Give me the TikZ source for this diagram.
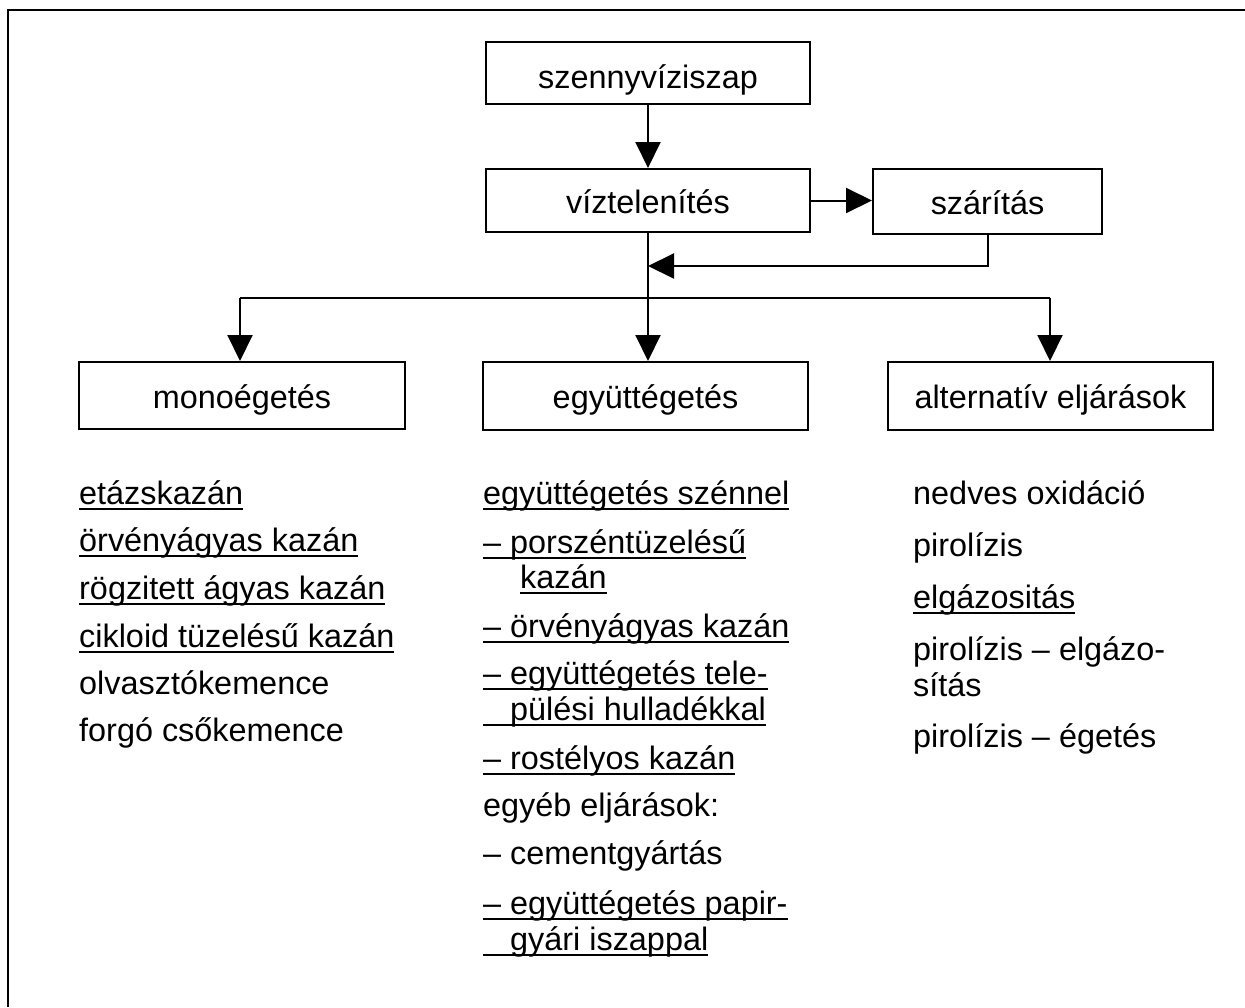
\documentclass[tikz,border=0pt]{standalone}
\usepackage{fontspec}
\setmainfont{Liberation Sans}
\usetikzlibrary{arrows.meta}
\newcommand\ulx[1]{\setbox0\hbox{#1}\rlap{\rule[-6pt]{\wd0}{1.8pt}}\box0}
\tikzset{
  box/.style={draw, line width=2pt, inner sep=0pt, align=center, text height=31pt, text depth=6pt},
  arr/.style={line width=2pt, -{Triangle[length=26pt,width=25pt]}},
  ln/.style={line width=2pt},
  item/.style={anchor=base west, inner sep=0pt},
}
\begin{document}
\begin{tikzpicture}[x=1pt,y=-1pt,font=\fontsize{32.4}{38}\selectfont]
\useasboundingbox (0,0) rectangle (1245,1007);
\fill[white] (0,0) rectangle (1245,1007);
% frame
\coordinate (fa) at (8,1007);
\coordinate (fb) at (8,10);
\coordinate (fc) at (1245,10);
\draw[line width=2.5pt] (fa) -- (fb) -- (fc);
% boxes
\node[box, minimum width=324pt, minimum height=62pt, text height=36pt] (szi) at (648,73) {szennyvíziszap};
\node[box, minimum width=324pt, minimum height=63pt] (vt) at (648,200.5) {víztelenítés};
\node[box, minimum width=229pt, minimum height=65pt] (sz) at (987.5,201.5) {szárítás};
\node[box, minimum width=326pt, minimum height=67pt] (mono) at (242,395.5) {monoégetés};
\node[box, minimum width=325pt, minimum height=68pt] (egy) at (645.5,396) {együttégetés};
\node[box, minimum width=325pt, minimum height=68pt] (alt) at (1050.5,396) {alternatív eljárások};
% connectors
\draw[arr] (szi.south) -- (vt.north);
\draw[arr] (vt.east) -- (vt.east -| sz.west);
\coordinate (fbk) at (648,266);
\draw[arr] (sz.south) |- (fbk);
\draw[arr] (vt.south) -- (vt.south |- egy.north);
\coordinate (br) at (648,298);
\coordinate (brl) at (240,298);
\coordinate (brr) at (1050,298);
\draw[ln] (brl) -- (brr);
\draw[arr] (brl) -- (brl |- mono.north);
\draw[arr] (brr) -- (brr |- alt.north);
% left list
\node[item] (l1) at (79,504) {\ulx{etázskazán}};
\node[item] (l2) at (79,551) {\ulx{örvényágyas kazán}};
\node[item] (l3) at (79,599) {\ulx{rögzitett ágyas kazán}};
\node[item] (l4) at (79,647) {\ulx{cikloid tüzelésű kazán}};
\node[item] (l5) at (79,694) {olvasztókemence};
\node[item] (l6) at (79,741) {forgó csőkemence};
% middle list
\node[item] (m1) at (483,504) {\ulx{együttégetés szénnel}};
\node[item] (m2) at (483,553) {\ulx{– porszéntüzelésű}};
\node[item] (m3) at (520,588) {\ulx{kazán}};
\node[item] (m4) at (483,637) {\ulx{– örvényágyas kazán}};
\node[item] (m5) at (483,684) {\ulx{– együttégetés tele-}};
\node[item] (m6) at (483,720) {\ulx{\hspace{27pt}pülési hulladékkal}};
\node[item] (m7) at (483,769) {\ulx{– rostélyos kazán}};
\node[item] (m8) at (483,816) {egyéb eljárások:};
\node[item] (m9) at (483,864) {– cementgyártás};
\node[item] (m10) at (483,914) {\ulx{– együttégetés papir-}};
\node[item] (m11) at (483,950) {\ulx{\hspace{27pt}gyári iszappal}};
% right list
\node[item] (r1) at (913,504) {nedves oxidáció};
\node[item] (r2) at (913,556) {pirolízis};
\node[item] (r3) at (913,608) {\ulx{elgázositás}};
\node[item] (r4) at (913,660) {pirolízis – elgázo-};
\node[item] (r5) at (913,696) {sítás};
\node[item] (r6) at (913,747) {pirolízis – égetés};
\end{tikzpicture}
\end{document}
